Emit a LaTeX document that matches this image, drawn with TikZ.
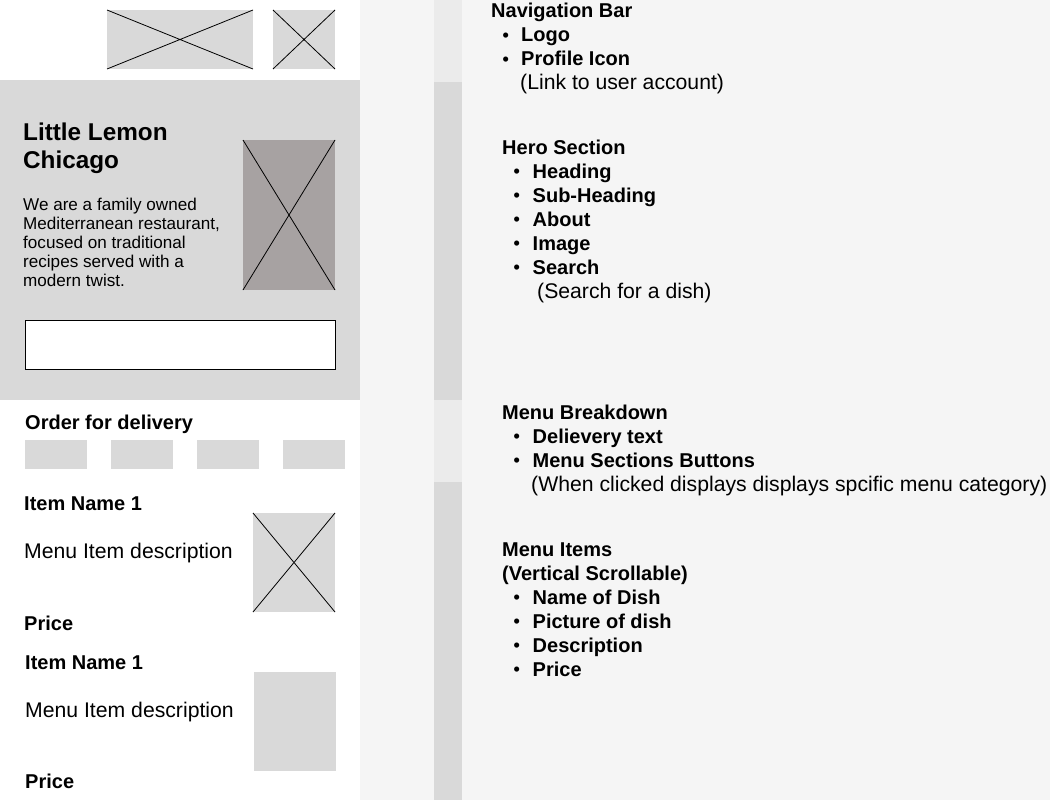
\documentclass[tikz,border=0pt]{standalone}
\usepackage{fontspec}
\setmainfont{Liberation Sans}
\usetikzlibrary{positioning}

\definecolor{wfgray}{HTML}{D9D9D9}
\definecolor{wfphoto}{HTML}{A7A2A2}
\definecolor{wfpanel}{HTML}{F5F5F5}
\definecolor{wfstripe}{HTML}{EBEBEB}

\newcommand{\wfdot}{{\fontsize{18}{18}\selectfont\raisebox{0.2pt}{\textbullet}}}

\begin{document}
\begin{tikzpicture}[
    x=1pt, y=-1pt,
    imgbox/.style={
        rectangle, anchor=north west, inner sep=0pt, outer sep=0pt,
        fill=wfgray, draw=none
    },
    xline/.style={line width=0.8pt, black},
    herotitle/.style={anchor=base west, inner sep=0pt, font=\fontsize{24.3}{28}\selectfont\bfseries},
    herotext/.style={anchor=base west, inner sep=0pt, font=\fontsize{17.1}{19}\selectfont},
    itemname/.style={anchor=base west, inner sep=0pt, font=\fontsize{20}{24}\selectfont\bfseries},
    itemtext/.style={anchor=base west, inner sep=0pt, font=\fontsize{21.2}{24}\selectfont},
    notehead/.style={anchor=base west, inner sep=0pt, font=\fontsize{20}{24}\selectfont\bfseries},
    notebullet/.style={anchor=base west, inner sep=0pt, font=\fontsize{20}{24}\selectfont\bfseries},
    notetext/.style={anchor=base west, inner sep=0pt, font=\fontsize{21.2}{24}\selectfont},
]
\useasboundingbox (0,0) rectangle (1050,800);

% Backgrounds
\fill[white] (0,0) rectangle (360,800);
\fill[wfpanel] (360,0) rectangle (1050,800);
\fill[wfstripe] (434,0) rectangle (462,82);
\fill[wfgray] (434,82) rectangle (462,400);
\fill[wfstripe] (434,400) rectangle (462,482);
\fill[wfgray] (434,482) rectangle (462,800);
\fill[wfgray] (0,80) rectangle (360,400);

% Navigation bar
\node[imgbox, minimum width=146, minimum height=59] (logo) at (107,10) {};
\draw[xline] (logo.north west) -- (logo.south east) (logo.south west) -- (logo.north east);
\node[imgbox, minimum width=62, minimum height=59] (profile) at (273,10) {};
\draw[xline] (profile.north west) -- (profile.south east) (profile.south west) -- (profile.north east);

% Hero section
\node[herotitle] (title) at (23,140) {Little Lemon};
\node[herotitle] (city) at (23,168) {Chicago};
\foreach \txt [count=\i] in {We are a family owned, {Mediterranean restaurant,}, focused on traditional, recipes served with a, modern twist.}
    \node[herotext] (about\i) at (23,{191+19*\i}) {\txt};
\node[imgbox, fill=wfphoto, minimum width=92, minimum height=150] (heroimg) at (243,140) {};
\draw[xline] (heroimg.north west) -- (heroimg.south east) (heroimg.south west) -- (heroimg.north east);
\node[imgbox, fill=white, draw=black, line width=1pt, minimum width=310, minimum height=49] (search) at (25,320) {};

% Menu breakdown
\node[itemname] (delivery) at (25,429) {Order for delivery};
\foreach \bx [count=\i] in {25,111,197,283}
    \node[imgbox, minimum width=62, minimum height=29] (btn\i) at (\bx,440) {};

% Menu items
\node[itemname] (name1) at (24,510) {Item Name 1};
\node[itemtext] (desc1) at (24,558) {Menu Item description};
\node[imgbox, minimum width=82, minimum height=99] (dish1) at (253,513) {};
\draw[xline] (dish1.north west) -- (dish1.south east) (dish1.south west) -- (dish1.north east);
\node[itemname] (price1) at (24,630) {Price};

\node[itemname] (name2) at (25,669) {Item Name 1};
\node[itemtext] (desc2) at (25,717) {Menu Item description};
\node[imgbox, minimum width=82, minimum height=99] (dish2) at (254,672) {};
\node[itemname] (price2) at (25,788) {Price};

% Notes: navigation bar
\node[notehead] (navhead) at (491,17.5) {Navigation Bar};
\foreach \txt [count=\i] in {Logo, Profile Icon}
    \node[notebullet] (nav\i) at (502.5,{17.5+24*\i}) {\makebox[18.5pt][l]{\wfdot}\txt};
\node[notetext] (navnote) at (520,89.5) {(Link to user account)};

% Notes: hero section
\node[notehead] (herohead) at (502,154) {Hero Section};
\foreach \txt [count=\i] in {Heading, Sub-Heading, About, Image, Search}
    \node[notebullet] (hero\i) at (513.5,{154+24*\i}) {\makebox[19pt][l]{\wfdot}\txt};
\node[notetext] (heronote) at (537,298) {(Search for a dish)};

% Notes: menu breakdown
\node[notehead] (breakhead) at (502,419) {Menu Breakdown};
\foreach \txt [count=\i] in {Delievery text, Menu Sections Buttons}
    \node[notebullet] (break\i) at (513.5,{419+24*\i}) {\makebox[19pt][l]{\wfdot}\txt};
\node[notetext] (breaknote) at (531,491) {(When clicked displays displays spcific menu category)};

% Notes: menu items
\node[notehead] (itemhead) at (502,556) {Menu Items};
\node[notehead] (itemsub) at (502,580) {(Vertical Scrollable)};
\foreach \txt [count=\i] in {Name of Dish, Picture of dish, Description, Price}
    \node[notebullet] (item\i) at (513.5,{580+24*\i}) {\makebox[19pt][l]{\wfdot}\txt};

\end{tikzpicture}
\end{document}
